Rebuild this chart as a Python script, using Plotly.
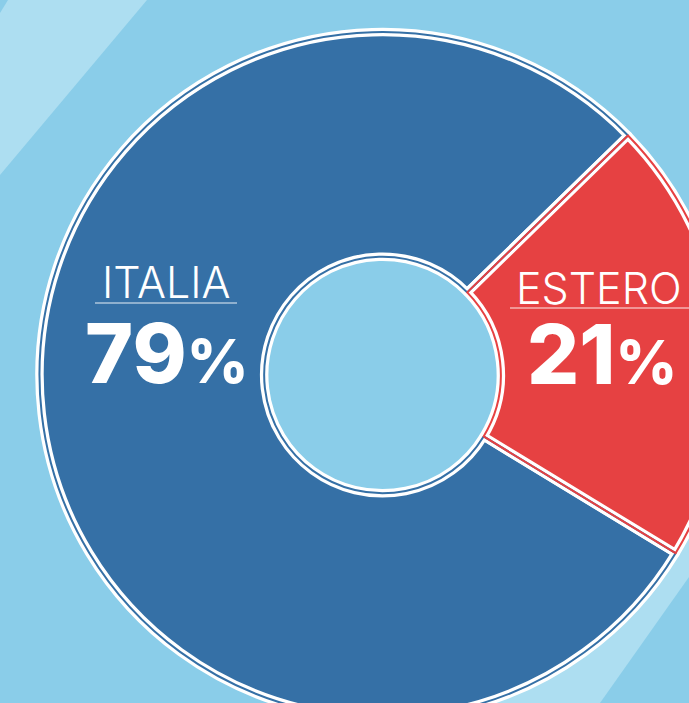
import plotly.graph_objects as go

# ---- data ----
labels = ["ITALIA", "ESTERO"]
values = [79, 21]
slice_colors = ["#3570A6", "#E64142"]

# ---- layout helpers (pixel -> paper) ----
W, H = 780, 760
CX, CY, R = 382.5, 375.0, 343.0
HOLE = 0.345
BG = "#8ACDE9"
BG_LIGHT = "#ADDEF1"


def px(x):
    return x / W


def py(y):
    return 1 - y / H


domain = dict(x=[px(CX - R), px(CX + R)], y=[py(CY + R), py(CY - R)])

fig = go.Figure()
common = dict(labels=labels, values=values, sort=False, direction="clockwise",
              rotation=121.3, hole=HOLE, domain=domain, textinfo="none",
              hoverinfo="skip", showlegend=False)
fig.add_trace(go.Pie(marker=dict(colors=slice_colors, line=dict(color="white", width=8.5)), **common))
fig.add_trace(go.Pie(marker=dict(colors=["rgba(0,0,0,0)"] * len(values),
                                 line=dict(color=slice_colors, width=2)), **common))


def path(points):
    s = "M " + " L ".join(f"{px(x):.5f},{py(y):.5f}" for x, y in points) + " Z"
    return s


shapes = [
    dict(type="path", xref="paper", yref="paper", layer="below", line=dict(width=0),
         fillcolor=BG_LIGHT, path=path([(0, 13), (0, 175), (147, 0), (8, 0)])),
    dict(type="path", xref="paper", yref="paper", layer="below", line=dict(width=0),
         fillcolor=BG_LIGHT, path=path([(480, 703), (600, 703), (689, 577), (689, 407)])),
]

label_pos = [(166, 282), (599, 288)]
num_pos = [(166, 353), (602, 354)]
underline = [(95, 237, 303), (510, 690, 308)]

annotations = []
for lab, val, (lx, ly), (nx, ny), (u0, u1, uy) in zip(labels, values, label_pos, num_pos, underline):
    annotations.append(dict(x=px(lx), y=py(ly), xref="paper", yref="paper", text=lab,
                            showarrow=False, xanchor="center", yanchor="middle",
                            font=dict(family="Inter", size=43, color="white", weight=300)))
    annotations.append(dict(x=px(nx), y=py(ny), xref="paper", yref="paper",
                            text=f"{val}<span style='font-size:60px'>%</span>",
                            showarrow=False, xanchor="center", yanchor="middle",
                            font=dict(family="Inter", size=82, color="white", weight=800)))
    shapes.append(dict(type="line", xref="paper", yref="paper", x0=px(u0), x1=px(u1),
                       y0=py(uy), y1=py(uy), line=dict(color="rgba(255,255,255,0.6)", width=1.5)))

fig.update_layout(width=W, height=H, margin=dict(l=0, r=0, t=0, b=0),
                  paper_bgcolor=BG, plot_bgcolor=BG, shapes=shapes, annotations=annotations)

fig.write_html("out.html", config={"displayModeBar": False},
               post_script="document.documentElement.style.overflow='hidden';document.body.style.overflow='hidden';")
